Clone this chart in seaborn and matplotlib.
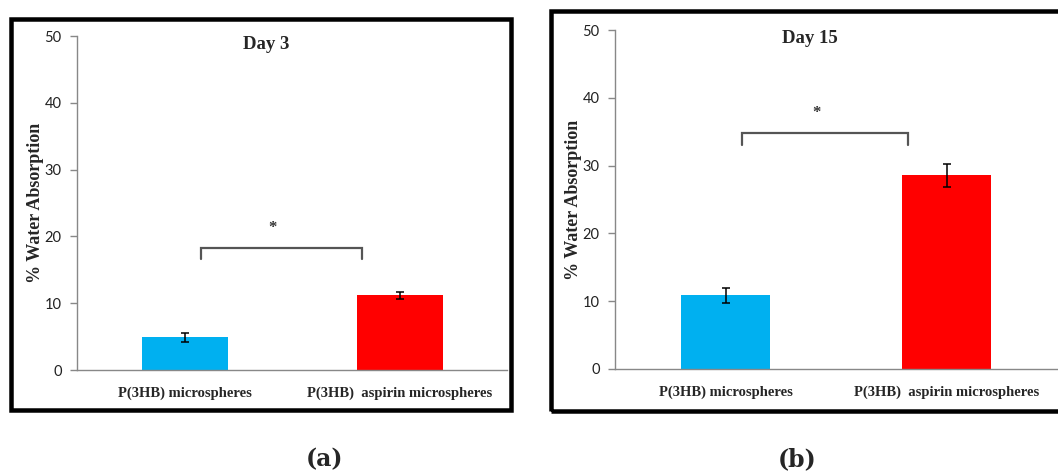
import matplotlib
matplotlib.use("Agg")
import matplotlib.pyplot as plt
import seaborn as sns
import pandas as pd
from matplotlib.patches import Rectangle

sns.set_theme(style="white")

# Data
categories = ["P(3HB) microspheres", "P(3HB)  aspirin microspheres"]
day3_means = [4.9, 11.2]
day3_err = [0.65, 0.5]
day15_means = [10.9, 28.6]
day15_err = [1.1, 1.7]
bar_colors = ["#00B0F0", "#FF0000"]
panel_titles = ["Day 3", "Day 15"]
panel_tags = ["(a)", "(b)"]
bracket_levels = [(18.3, 16.6), (34.8, 33.0)]
y_ticks = [0, 10, 20, 30, 40, 50]

W, H = 1058, 475
fig = plt.figure(figsize=(W / 100, H / 100), dpi=100)
fig.patch.set_facecolor("white")

serif = "Liberation Serif"
sans = "Lato"


def px_axes(left, top, right, bottom):
    return fig.add_axes([left / W, 1 - bottom / H, (right - left) / W, (bottom - top) / H])


def draw_frame(x0, y0, x1, y1, lw=4.5):
    rect = Rectangle((x0 / W, 1 - y1 / H), (x1 - x0) / W, (y1 - y0) / H,
                     transform=fig.transFigure, fill=False, edgecolor="black",
                     linewidth=lw * 0.72, zorder=0)
    fig.patches.append(rect)


def draw_panel(ax, means, errs, title, bracket, label_x):
    df = pd.DataFrame({"group": categories, "value": means})
    sns.barplot(data=df, x="group", y="value", hue="group", palette=bar_colors,
                order=categories, hue_order=categories, legend=False,
                width=0.4, errorbar=None, ax=ax, saturation=1)
    for p in ax.patches:
        p.set_edgecolor("none")
    ax.errorbar(range(len(means)), means, yerr=errs, fmt="none",
                ecolor="black", elinewidth=1.1, capsize=3, capthick=1.1, zorder=5)
    ax.set_xlim(-0.5, 1.5)
    ax.set_ylim(0, 50)
    ax.set_yticks(y_ticks)
    ax.set_yticklabels([str(v) for v in y_ticks], fontname=sans, fontsize=10.5, color="#222222")
    ax.set_xticks([0, 1])
    ax.set_xticklabels(categories, fontname=serif, fontweight="bold", fontsize=10.5)
    ax.set_xticks([-0.5, 0.5, 1.5], minor=True)
    ax.tick_params(axis="x", which="major", length=0, pad=12)
    ax.tick_params(axis="x", which="minor", length=5, width=1, color="#888888", direction="out")
    ax.tick_params(axis="y", length=5, width=1, color="#888888", direction="out", pad=6, left=True)
    ax.set_xlabel("")
    ax.set_ylabel("% Water Absorption", fontname=serif, fontweight="bold", fontsize=13)
    ax.yaxis.set_label_coords(label_x, 0.5)
    for s in ["top", "right"]:
        ax.spines[s].set_visible(False)
    for s in ["left", "bottom"]:
        ax.spines[s].set_color("#888888")
        ax.spines[s].set_linewidth(1)
    ax.set_facecolor("none")
    ax.text(0.44, 0.975, title, transform=ax.transAxes, ha="center", va="center",
            fontname=serif, fontweight="bold", fontsize=13.5)
    top, foot = bracket
    ax.plot([0.075, 0.075, 0.825, 0.825], [foot, top, top, foot], color="#555555",
            lw=1.6, solid_joinstyle="miter", zorder=4)
    ax.text(0.41, top + 3.0, "*", ha="center", va="center", fontname=serif,
            fontweight="bold", fontsize=12, color="#333333")


# Outer frames
draw_frame(10.5, 18.5, 510.5, 410)
draw_frame(550.5, 11, 1070, 410.5)

ax_a = px_axes(77, 36, 507, 370)
draw_panel(ax_a, day3_means, day3_err, panel_titles[0], bracket_levels[0], -0.076)

ax_b = px_axes(615, 30, 1057, 369)
draw_panel(ax_b, day15_means, day15_err, panel_titles[1], bracket_levels[1], -0.074)

fig.text(325 / W, 1 - 459 / H, panel_tags[0], ha="center", va="center",
         fontname="DejaVu Serif", fontweight="bold", fontsize=17)
fig.text(797 / W, 1 - 459 / H, panel_tags[1], ha="center", va="center",
         fontname="DejaVu Serif", fontweight="bold", fontsize=17)

fig.savefig("out.png", dpi=100)
